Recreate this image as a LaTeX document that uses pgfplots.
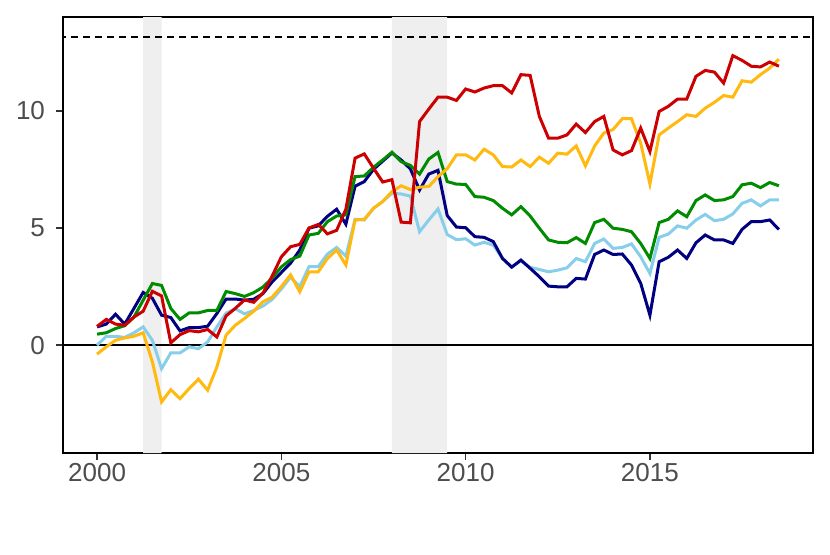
\documentclass[border=0pt]{standalone}
\usepackage{fontspec}
\setmainfont{Liberation Sans}
\usepackage{pgfplots}
\usepackage{pgfplotstable}
\pgfplotsset{compat=1.18}
\definecolor{cred}{HTML}{CC0000}
\definecolor{cnavy}{HTML}{000080}
\definecolor{cgreen}{HTML}{008B00}
\definecolor{cblue}{HTML}{87CEEB}
\definecolor{cyellow}{HTML}{FFB90F}
\definecolor{shade}{HTML}{EFEFEF}
\definecolor{ticklab}{HTML}{4D4D4D}
\definecolor{tickcol}{HTML}{333333}
\pgfplotstableread{
t R N G B Y
2000.00 0.80 0.78 0.47 0.00 -0.38
2000.25 1.10 0.90 0.53 0.38 -0.07
2000.50 0.90 1.32 0.71 0.38 0.21
2000.75 0.85 0.90 0.83 0.33 0.31
2001.00 1.20 1.57 1.20 0.53 0.38
2001.25 1.45 2.25 1.92 0.78 0.53
2001.50 2.30 2.00 2.63 0.21 -0.71
2001.75 2.10 1.28 2.55 -1.00 -2.42
2002.00 0.10 1.18 1.57 -0.33 -1.90
2002.25 0.45 0.61 1.10 -0.33 -2.28
2002.50 0.62 0.75 1.38 -0.07 -1.85
2002.75 0.57 0.75 1.38 -0.15 -1.45
2003.00 0.67 0.81 1.48 0.14 -1.92
2003.25 0.35 1.35 1.48 0.78 -0.93
2003.50 1.25 1.97 2.29 1.37 0.43
2003.75 1.57 1.97 2.20 1.55 0.85
2004.00 1.93 1.92 2.08 1.34 1.14
2004.25 1.83 1.96 2.24 1.48 1.45
2004.50 2.22 2.20 2.48 1.67 1.85
2004.75 2.95 2.70 2.86 1.95 2.05
2005.00 3.77 3.10 3.34 2.40 2.50
2005.25 4.20 3.50 3.65 2.90 3.00
2005.50 4.30 4.06 3.80 2.50 2.28
2005.75 5.00 4.99 4.70 3.35 3.13
2006.00 5.15 5.09 4.77 3.35 3.13
2006.25 4.75 5.50 5.27 3.89 3.70
2006.50 4.90 5.80 5.51 4.17 4.06
2006.75 5.80 5.16 5.56 3.80 3.42
2007.00 7.98 6.78 7.19 5.37 5.34
2007.25 8.16 6.98 7.22 5.34 5.37
2007.50 7.55 7.50 7.59 5.84 5.84
2007.75 6.96 7.85 7.90 6.13 6.13
2008.00 7.06 8.20 8.23 6.48 6.55
2008.25 5.25 7.90 7.83 6.45 6.80
2008.50 5.22 7.52 7.67 6.36 6.64
2008.75 9.54 6.62 7.30 4.84 6.74
2009.00 10.07 7.30 7.94 5.34 6.77
2009.25 10.58 7.46 8.22 5.81 7.19
2009.50 10.58 5.53 6.98 4.72 7.53
2009.75 10.44 5.04 6.87 4.50 8.12
2010.00 10.93 5.01 6.86 4.54 8.12
2010.25 10.80 4.63 6.34 4.27 7.90
2010.50 10.97 4.60 6.31 4.39 8.36
2010.75 11.07 4.42 6.17 4.27 8.12
2011.00 11.07 3.70 5.84 3.70 7.62
2011.25 10.76 3.33 5.56 3.33 7.60
2011.50 11.54 3.63 5.91 3.60 7.90
2011.75 11.51 3.28 5.51 3.32 7.62
2012.00 9.76 2.92 4.99 3.23 8.02
2012.25 8.83 2.52 4.49 3.13 7.76
2012.50 8.83 2.49 4.39 3.20 8.19
2012.75 8.97 2.49 4.37 3.30 8.15
2013.00 9.43 2.85 4.59 3.70 8.50
2013.25 9.07 2.82 4.34 3.56 7.65
2013.50 9.54 3.87 5.23 4.34 8.50
2013.75 9.76 4.06 5.37 4.53 9.05
2014.00 8.33 3.87 4.99 4.13 9.20
2014.25 8.12 3.89 4.94 4.17 9.66
2014.50 8.30 3.42 4.84 4.32 9.66
2014.75 9.26 2.64 4.34 3.77 8.62
2015.00 8.26 1.28 3.70 3.06 6.88
2015.25 9.97 3.56 5.23 4.60 8.97
2015.50 10.19 3.75 5.37 4.74 9.26
2015.75 10.50 4.06 5.73 5.09 9.54
2016.00 10.50 3.70 5.48 4.99 9.83
2016.25 11.47 4.37 6.17 5.34 9.76
2016.50 11.72 4.70 6.41 5.58 10.11
2016.75 11.65 4.49 6.17 5.31 10.36
2017.00 11.18 4.49 6.20 5.37 10.65
2017.25 12.35 4.34 6.34 5.60 10.58
2017.50 12.15 4.94 6.84 6.05 11.28
2017.75 11.90 5.27 6.91 6.20 11.22
2018.00 11.87 5.27 6.72 5.94 11.54
2018.25 12.08 5.34 6.94 6.20 11.82
2018.50 11.90 4.94 6.80 6.20 12.20
}\datatable
\begin{document}
\begin{tikzpicture}
\begin{axis}[
  scale only axis, width=375pt, height=218pt,
  xmin=1999.075, xmax=2019.425, ymin=-4.6, ymax=14.0,
  xtick={2000,2005,2010,2015}, ytick={0,5,10},
  xtick pos=bottom, ytick pos=left, tick align=outside,
  major tick length=3.5pt,
  tick style={color=tickcol, line width=0.8pt},
  axis line style={draw=black, line width=0.6pt},
  /pgf/number format/assume math mode=true,
  /pgf/number format/1000 sep={},
  scaled ticks=false,
  ticklabel style={font=\fontsize{13}{15}\selectfont, text=ticklab},
  xticklabel style={yshift=2pt},
  yticklabel style={xshift=-2pt},
  axis on top=false,
]
\coordinate (bl) at (rel axis cs:0,0);
\coordinate (tr) at (rel axis cs:1,1);
\addplot[fill=shade, draw=none] coordinates {(2001.25,-4.6) (2001.75,-4.6) (2001.75,14) (2001.25,14)} \closedcycle;
\addplot[fill=shade, draw=none] coordinates {(2008.0,-4.6) (2009.5,-4.6) (2009.5,14) (2008.0,14)} \closedcycle;
\addplot[black, line width=1pt] coordinates {(1998,0) (2020,0)};
\addplot[black, line width=1pt, dash pattern=on 3.5pt off 2.5pt] coordinates {(1998,13.16) (2020,13.16)};
\addplot[cblue, line width=1.5pt] table[x=t, y=B] {\datatable};
\addplot[cnavy, line width=1.5pt] table[x=t, y=N] {\datatable};
\addplot[cgreen, line width=1.5pt] table[x=t, y=G] {\datatable};
\addplot[cyellow, line width=1.5pt] table[x=t, y=Y] {\datatable};
\addplot[cred, line width=1.5pt] table[x=t, y=R] {\datatable};
\end{axis}
\path (bl) ++(-31.5pt,-50.5pt);
\path (tr) ++(8.5pt,8.5pt);
\end{tikzpicture}
\end{document}
